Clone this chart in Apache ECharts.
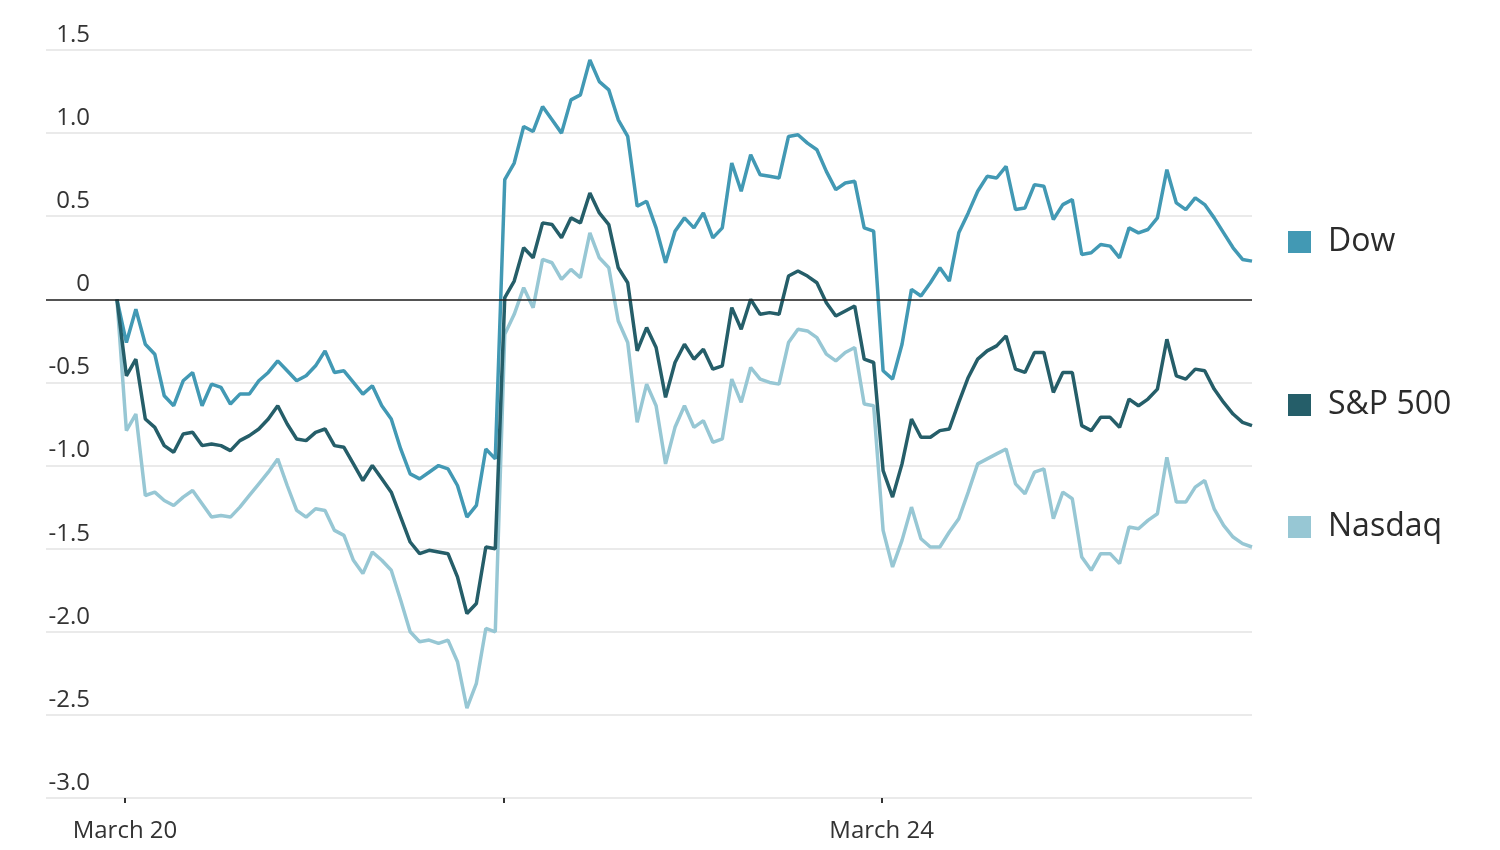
<!DOCTYPE html>
<html>
<head>
<meta charset="utf-8">
<script src="https://cdn.jsdelivr.net/npm/echarts@6/dist/echarts.min.js"></script>
<style>
html,body{margin:0;padding:0;background:#fff;}
#chart{width:1500px;height:850px;}
</style>
</head>
<body>
<div id="chart"></div>
<script>
// Percent change, 10-minute steps over three sessions
const dow = [
  0.00,-0.26,-0.06,-0.27,-0.33,-0.58,-0.64,-0.49,-0.44,-0.64,
 -0.51,-0.53,-0.63,-0.57,-0.57,-0.49,-0.44,-0.37,-0.43,-0.49,
 -0.46,-0.40,-0.31,-0.44,-0.43,-0.50,-0.57,-0.52,-0.64,-0.72,
 -0.90,-1.05,-1.08,-1.04,-1.00,-1.02,-1.12,-1.31,-1.24,-0.90,
 -0.96,
  0.72,0.82,1.04,1.01,1.16,1.08,1.00,1.20,1.23,1.44,
  1.31,1.26,1.08,0.98,0.56,0.59,0.43,0.22,0.41,0.49,
  0.43,0.52,0.37,0.43,0.82,0.65,0.87,0.75,0.74,0.73,
  0.98,0.99,0.94,0.90,0.77,0.66,0.70,0.71,0.43,0.41,
 -0.43,-0.48,-0.27,0.06,0.02,0.10,0.19,0.11,0.40,0.52,
  0.65,0.74,0.73,0.80,0.54,0.55,0.69,0.68,0.48,0.57,
  0.60,0.27,0.28,0.33,0.32,0.25,0.43,0.40,0.42,0.49,
  0.78,0.58,0.54,0.61,0.57,0.49,0.40,0.31,0.24,0.23
];
const sp500 = [
  0.00,-0.46,-0.36,-0.72,-0.77,-0.88,-0.92,-0.81,-0.80,-0.88,
 -0.87,-0.88,-0.91,-0.85,-0.82,-0.78,-0.72,-0.64,-0.75,-0.84,
 -0.85,-0.80,-0.78,-0.88,-0.89,-0.99,-1.09,-1.00,-1.08,-1.16,
 -1.31,-1.46,-1.53,-1.51,-1.52,-1.53,-1.67,-1.89,-1.83,-1.49,
 -1.50,
  0.01,0.11,0.31,0.25,0.46,0.45,0.37,0.49,0.46,0.64,
  0.52,0.45,0.19,0.10,-0.31,-0.17,-0.29,-0.59,-0.38,-0.27,
 -0.36,-0.30,-0.42,-0.40,-0.05,-0.18,0.00,-0.09,-0.08,-0.09,
  0.14,0.17,0.14,0.10,-0.02,-0.10,-0.07,-0.04,-0.36,-0.38,
 -1.03,-1.19,-0.99,-0.72,-0.83,-0.83,-0.79,-0.78,-0.62,-0.47,
 -0.36,-0.31,-0.28,-0.22,-0.42,-0.44,-0.32,-0.32,-0.56,-0.44,
 -0.44,-0.76,-0.79,-0.71,-0.71,-0.77,-0.60,-0.64,-0.60,-0.54,
 -0.24,-0.46,-0.48,-0.42,-0.43,-0.54,-0.62,-0.69,-0.74,-0.76
];
const nasdaq = [
  0.00,-0.79,-0.69,-1.18,-1.16,-1.21,-1.24,-1.19,-1.15,-1.23,
 -1.31,-1.30,-1.31,-1.25,-1.18,-1.11,-1.04,-0.96,-1.12,-1.27,
 -1.31,-1.26,-1.27,-1.39,-1.42,-1.57,-1.65,-1.52,-1.57,-1.63,
 -1.81,-2.00,-2.06,-2.05,-2.07,-2.05,-2.18,-2.46,-2.31,-1.98,
 -2.00,
 -0.21,-0.09,0.07,-0.05,0.24,0.22,0.12,0.18,0.13,0.40,
  0.25,0.19,-0.13,-0.26,-0.74,-0.51,-0.64,-0.99,-0.77,-0.64,
 -0.77,-0.73,-0.86,-0.84,-0.48,-0.62,-0.41,-0.48,-0.50,-0.51,
 -0.26,-0.18,-0.19,-0.23,-0.33,-0.37,-0.32,-0.29,-0.63,-0.64,
 -1.39,-1.61,-1.45,-1.25,-1.44,-1.49,-1.49,-1.40,-1.32,-1.16,
 -0.99,-0.96,-0.93,-0.90,-1.11,-1.17,-1.04,-1.02,-1.32,-1.16,
 -1.20,-1.55,-1.63,-1.53,-1.53,-1.59,-1.37,-1.38,-1.33,-1.29,
 -0.95,-1.22,-1.22,-1.13,-1.09,-1.26,-1.36,-1.43,-1.47,-1.49
];
const seriesNames = ['Dow', 'S&P 500', 'Nasdaq'];
const dayTickPositions = [0.85, 40.85, 80.85];
const dayTickLabels = ['March 20', '', 'March 24'];
const yTicks = [-3.0, -2.5, -2.0, -1.5, -1.0, -0.5, 0, 0.5, 1.0, 1.5];

const colors = {'Dow': '#4299b4', 'S&P 500': '#255e69', 'Nasdaq': '#97c7d4'};
const FONT = '"Open Sans", "Noto Sans", sans-serif';

function pairs(arr) { return arr.map((v, i) => [i, v]); }

const chart = echarts.init(document.getElementById('chart'), null, {renderer: 'canvas'});

function legendFor(name, centerY) {
  return {
    data: [name],
    left: 1288,
    top: centerY - 16,
    padding: 0,
    icon: 'rect',
    itemWidth: 23,
    itemHeight: 22,
    selectedMode: false,
    textStyle: {fontFamily: FONT, fontSize: 32, color: '#2b2b2b', lineHeight: 32, padding: [0, 0, 0, 12]}
  };
}

chart.setOption({
  animation: false,
  backgroundColor: '#ffffff',
  color: [colors['Dow'], colors['S&P 500'], colors['Nasdaq']],
  legend: [
    legendFor('Dow', 242),
    legendFor('S&P 500', 405),
    legendFor('Nasdaq', 527)
  ],
  grid: {left: 46, right: 248, top: 50, bottom: 52, containLabel: false, outerBoundsMode: 'none'},
  xAxis: {
    type: 'value',
    min: -7.5,
    max: dow.length - 1,
    axisLine: {show: false, onZero: false},
    splitLine: {show: false},
    axisTick: {show: true, customValues: dayTickPositions, length: 5, inside: false,
               lineStyle: {color: '#333', width: 2}},
    axisLabel: {
      customValues: dayTickPositions,
      margin: 21,
      fontFamily: FONT, fontSize: 24, color: '#333',
      formatter: function (v) {
        const k = dayTickPositions.findIndex(p => Math.abs(p - v) < 1e-6);
        return k >= 0 ? dayTickLabels[k] : '';
      }
    }
  },
  yAxis: {
    type: 'value',
    min: yTicks[0],
    max: yTicks[yTicks.length - 1],
    interval: 0.5,
    axisLine: {show: false},
    axisTick: {show: false},
    splitLine: {show: true, lineStyle: {color: '#e3e3e3', width: 1.5}},
    axisLabel: {
      inside: true,
      align: 'right',
      verticalAlign: 'bottom',
      margin: 44,
      padding: [0, 0, 3, 0],
      fontFamily: FONT, fontSize: 24, color: '#333',
      formatter: function (v) { return Math.abs(v) < 1e-9 ? '0' : v.toFixed(1); }
    }
  },
  series: [
    {
      name: 'Nasdaq', type: 'line', data: pairs(nasdaq), symbol: 'none', z: 2,
      lineStyle: {width: 3.5, color: colors['Nasdaq']}, itemStyle: {color: colors['Nasdaq']}
    },
    {
      name: 'Dow', type: 'line', data: pairs(dow), symbol: 'none', z: 3,
      lineStyle: {width: 3.5, color: colors['Dow']}, itemStyle: {color: colors['Dow']},
      markLine: {
        silent: true, symbol: 'none', label: {show: false},
        lineStyle: {color: '#222', width: 1.5, type: 'solid'},
        data: [{yAxis: 0}]
      }
    },
    {
      name: 'S&P 500', type: 'line', data: pairs(sp500), symbol: 'none', z: 4,
      lineStyle: {width: 3.5, color: colors['S&P 500']}, itemStyle: {color: colors['S&P 500']}
    }
  ]
});
</script>
</body>
</html>
